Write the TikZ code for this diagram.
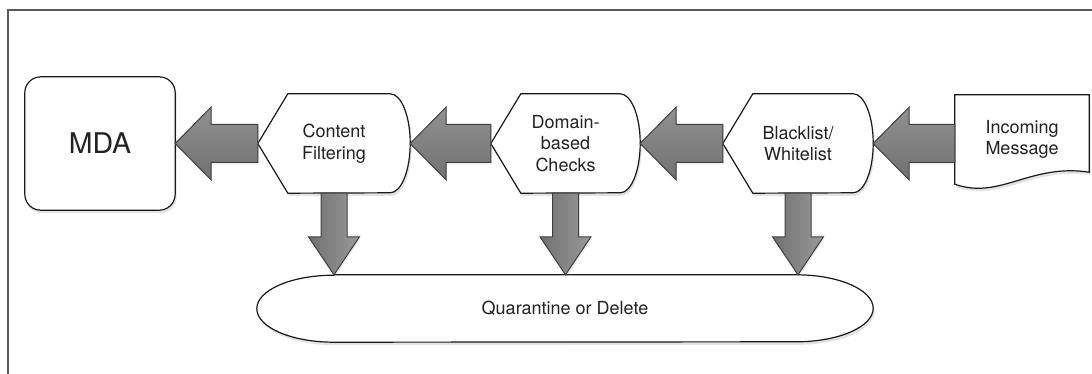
\documentclass[tikz,border=0pt]{standalone}
\usepackage{fontspec}
\setmainfont{TeX Gyre Heros}
\usetikzlibrary{calc}
\usetikzlibrary{shadows}
\usetikzlibrary{backgrounds}
\usetikzlibrary{positioning}

\definecolor{arrowdark}{HTML}{717171}
\definecolor{arrowlight}{HTML}{999999}
\definecolor{framegray}{HTML}{5A5A5A}
\definecolor{textgray}{HTML}{222222}

\tikzset{
	stage/.style={minimum width=150pt, minimum height=99pt, inner sep=0pt, align=center,
		font=\fontsize{18}{21.7}\selectfont, text=textgray},
	outline/.style={draw=black!90, line width=1.2pt, fill=white,
		drop shadow={opacity=0.22, shadow xshift=1.5pt, shadow yshift=-3pt}},
	fatarrow/.style={draw=black!75, line width=1pt, left color=arrowdark, right color=arrowlight,
		drop shadow={opacity=0.15, shadow xshift=1pt, shadow yshift=-2pt}}
}

% block arrow pointing left, tail at #1, tip at #2
\newcommand{\leftblock}[2]{%
	\draw[fatarrow, top color=arrowlight!80!arrowdark, bottom color=arrowdark] let \p1=(#1), \p2=(#2) in
		(\p2) -- (\x2+36pt,\y2+36.5pt) -- (\x2+36pt,\y2+19pt) -- (\x1,\y2+19pt)
		-- (\x1,\y2-19pt) -- (\x2+36pt,\y2-19pt) -- (\x2+36pt,\y2-36.5pt) -- cycle;}
% block arrow pointing down from node #1 to node #2
\newcommand{\downblock}[2]{%
	\draw[fatarrow] let \p1=(#1.south), \p2=(#1.south |- #2.north) in
		(\p2) -- (\x2-25.5pt,\y2+38pt) -- (\x2-13pt,\y2+38pt) -- (\x2-13pt,\y1)
		-- (\x2+13pt,\y1) -- (\x2+13pt,\y2+38pt) -- (\x2+25.5pt,\y2+38pt) -- cycle;}
% outline of a filter stage: pointed left, curved right
\newcommand{\stageoutline}[1]{%
	\draw[outline] (#1.west) -- ([xshift=30pt]#1.north west) -- ([xshift=-20pt]#1.north east)
		arc[start angle=90, end angle=-90, x radius=20pt, y radius=49.5pt]
		-- ([xshift=30pt]#1.south west) -- cycle;}

\begin{document}
\begin{tikzpicture}[x=1pt, y=-1pt]
	\useasboundingbox (0,0) rectangle (1092,374);
	
	% Frame
	\draw[framegray, line width=1.5pt] (1092,10) -- (8,10) -- (8,374);
	
	% Nodes
	\node[stage, minimum height=133pt, font=\fontsize{28.5}{30}\selectfont] (mda) at (100,143.5) {MDA};
	\node[stage, minimum width=152pt] (cf) at (334,143.5) {Content\\Filtering};
	\node[stage, minimum width=149pt] (dom) at (565.5,143.5) {Domain-\\based\\Checks};
	\node[stage] (bw) at (798,143.5) {Blacklist/\\Whitelist};
	\node[stage, minimum width=134pt, minimum height=89pt] (msg) at (1022,139.5) {Incoming\\Message};
	\node[stage, minimum width=616pt, minimum height=67pt] (qd) at (565,308.5) {Quarantine or Delete};
	
	% Shapes behind the text
	\begin{scope}[on background layer]
		\draw[outline, rounded corners=16pt] (mda.north west) rectangle (mda.south east);
		\foreach \s in {cf,dom,bw} {
			\stageoutline{\s}
		}
		\draw[outline] (msg.north west) -- (msg.north east) -- ([yshift=12pt]msg.south east)
			.. controls +(-59pt,9pt) and +(45pt,-16pt) .. (msg.south west) -- cycle;
		\draw[outline] ([xshift=77pt]qd.north west) -- ([xshift=-77pt]qd.north east)
			arc[start angle=90, end angle=-90, x radius=77pt, y radius=33.5pt]
			-- ([xshift=77pt]qd.south west)
			arc[start angle=270, end angle=90, x radius=77pt, y radius=33.5pt] -- cycle;
	\end{scope}
	
	% Arrows
	\leftblock{msg.west}{bw.east}
	\leftblock{bw.west}{dom.east}
	\leftblock{dom.west}{cf.east}
	\leftblock{cf.west}{mda.east}
	\foreach \s in {cf,dom,bw} {
		\downblock{\s}{qd}
	}
\end{tikzpicture}
\end{document}
